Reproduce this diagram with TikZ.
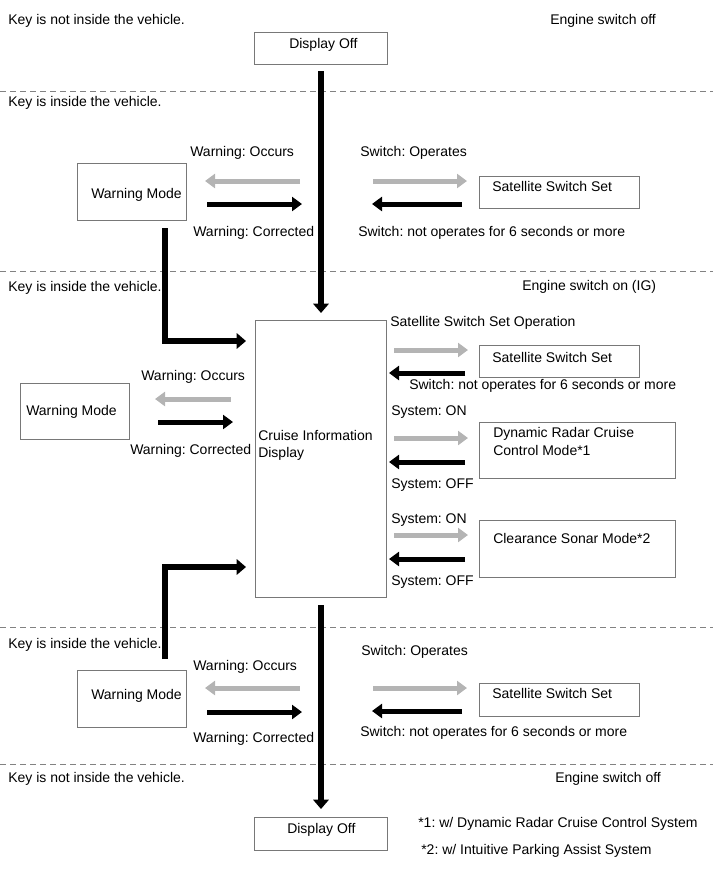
\documentclass[tikz,border=0pt]{standalone}
\usepackage{fontspec}
\setmainfont{Liberation Sans}
\usetikzlibrary{arrows.meta}
\definecolor{lgr}{RGB}{180,180,180}
\definecolor{bdr}{RGB}{120,120,120}
\definecolor{dsh}{RGB}{130,130,130}
\begin{document}
\frenchspacing
\begin{tikzpicture}[x=0.75pt,y=-0.75pt,
  font=\fontsize{10.5}{12.5}\selectfont,
  lbl/.style={anchor=west,inner sep=0pt,text height=7.5pt,text depth=0pt},
  box/.style={draw=bdr,line width=0.7pt,inner sep=0pt,anchor=north west},
  tip/.style={-{Triangle[length=7.5pt,width=10.5pt]}},
  garr/.style={draw=lgr,line width=3.75pt,tip,color=lgr},
  barr/.style={draw=black,line width=3.75pt,tip},
  varr/.style={draw=black,line width=4.2pt,-{Triangle[length=7pt,width=11.5pt]}},
  dline/.style={draw=dsh,line width=0.6pt,dash pattern=on 4.5pt off 3pt}]
\useasboundingbox (0,0) rectangle (713,882);

% ---------- dashed separators ----------
\draw[dline] (0,91) -- (713,91);
\draw[dline] (0,271) -- (713,271);
\draw[dline] (0,627) -- (713,627);
\draw[dline] (0,764) -- (713,764);

% ---------- section labels ----------
\node[lbl] (k1) at (8,19) {Key is not inside the vehicle.};
\node[lbl] (e1) at (550,19) {Engine switch off};
\node[lbl] (k2) at (8,101) {Key is inside the vehicle.};
\node[lbl] (k3) at (8,286) {Key is inside the vehicle.};
\node[lbl] (e2) at (522,285) {Engine switch on (IG)};
\node[lbl] (k4) at (8,643) {Key is inside the vehicle.};
\node[lbl] (k5) at (8,777) {Key is not inside the vehicle.};
\node[lbl] (e3) at (555,777) {Engine switch off};

% ---------- boxes ----------
\node[box,minimum width=133*0.75pt,minimum height=32*0.75pt] (d1) at (254,32) {};
\node[lbl] at (289,43) {Display Off};

\node[box,minimum width=109*0.75pt,minimum height=57*0.75pt] (w1) at (77,163) {};
\node[lbl] at (91,193) {Warning Mode};

\node[box,minimum width=160*0.75pt,minimum height=32*0.75pt] (s1) at (479,176) {};
\node[lbl] at (492,186) {Satellite Switch Set};

\node[box,minimum width=131*0.75pt,minimum height=277*0.75pt] (cid) at (255,320) {};
\node[lbl] at (258,435) {Cruise Information};
\node[lbl] at (258,452) {Display};

\node[box,minimum width=109*0.75pt,minimum height=56*0.75pt] (w2) at (20,383) {};
\node[lbl] at (26,410) {Warning Mode};

\node[box,minimum width=160*0.75pt,minimum height=32*0.75pt] (s2) at (479,345) {};
\node[lbl] at (492,357) {Satellite Switch Set};

\node[box,minimum width=196*0.75pt,minimum height=56*0.75pt] (dr) at (479,422) {};
\node[lbl] at (493,432) {Dynamic Radar Cruise};
\node[lbl] at (493,450) {Control Mode*1};

\node[box,minimum width=196*0.75pt,minimum height=57*0.75pt] (cs) at (479,520) {};
\node[lbl] at (493,538) {Clearance Sonar Mode*2};

\node[box,minimum width=109*0.75pt,minimum height=57*0.75pt] (w3) at (77,670) {};
\node[lbl] at (91,694) {Warning Mode};

\node[box,minimum width=160*0.75pt,minimum height=33*0.75pt] (s3) at (479,683) {};
\node[lbl] at (492,693) {Satellite Switch Set};

\node[box,minimum width=133*0.75pt,minimum height=33*0.75pt] (d2) at (254,817) {};
\node[lbl] at (287,828) {Display Off};

% ---------- texts of section 1 ----------
\node[lbl] (t1) at (190,151) {Warning: Occurs};
\node[lbl] (t2) at (193,231) {Warning: Corrected};
\node[lbl] (t3) at (360,151) {Switch: Operates};
\node[lbl] (t4) at (358,231) {Switch: not operates for 6 seconds or more};

% ---------- texts of section 2 ----------
\node[lbl] (t5) at (390,321) {Satellite Switch Set Operation};
\node[lbl] (t6) at (409,384) {Switch: not operates for 6 seconds or more};
\node[lbl] (t7) at (391,410) {System: ON};
\node[lbl] (t8) at (391,483) {System: OFF};
\node[lbl] (t9) at (391,518) {System: ON};
\node[lbl] (t10) at (391,580) {System: OFF};
\node[lbl] (t11) at (141,375) {Warning: Occurs};
\node[lbl] (t12) at (130,449) {Warning: Corrected};

% ---------- texts of section 3 ----------
\node[lbl] (t13) at (193,665) {Warning: Occurs};
\node[lbl] (t14) at (193,737) {Warning: Corrected};
\node[lbl] (t15) at (361,650) {Switch: Operates};
\node[lbl] (t16) at (360,731) {Switch: not operates for 6 seconds or more};

% ---------- footnotes ----------
\node[lbl] (f1) at (418,822) {*1: w/ Dynamic Radar Cruise Control System};
\node[lbl] (f2) at (421,849) {*2: w/ Intuitive Parking Assist System};

% ---------- coordinates ----------
\coordinate (a1) at (300,181); \coordinate (a2) at (205,181);
\coordinate (a3) at (207,204); \coordinate (a4) at (302,204);
\coordinate (a5) at (373,181); \coordinate (a6) at (467,181);
\coordinate (a7) at (462,204); \coordinate (a8) at (372,204);

\coordinate (b1) at (394,350); \coordinate (b2) at (468,350);
\coordinate (b3) at (465,373); \coordinate (b4) at (389,373);
\coordinate (b5) at (394,438); \coordinate (b6) at (468,438);
\coordinate (b7) at (465,462); \coordinate (b8) at (389,462);
\coordinate (b9) at (394,535); \coordinate (b10) at (468,535);
\coordinate (b11) at (465,559); \coordinate (b12) at (389,559);
\coordinate (c1) at (231,399); \coordinate (c2) at (155,399);
\coordinate (c3) at (158,422); \coordinate (c4) at (233,422);

\coordinate (g1) at (300,688); \coordinate (g2) at (205,688);
\coordinate (g3) at (207,712); \coordinate (g4) at (302,712);
\coordinate (g5) at (373,688); \coordinate (g6) at (467,688);
\coordinate (g7) at (462,711); \coordinate (g8) at (372,711);

\coordinate (v1) at (321,71); \coordinate (v2) at (321,313);
\coordinate (v3) at (321,605); \coordinate (v4) at (321,809);
\coordinate (l1) at (165,228); \coordinate (l2) at (165,341); \coordinate (l3) at (246,341);
\coordinate (m1) at (165,659); \coordinate (m2) at (165,567); \coordinate (m3) at (246,567);

% ---------- arrows ----------
\draw[garr] (a1) -- (a2);
\draw[barr] (a3) -- (a4);
\draw[garr] (a5) -- (a6);
\draw[barr] (a7) -- (a8);

\draw[garr] (b1) -- (b2);
\draw[barr] (b3) -- (b4);
\draw[garr] (b5) -- (b6);
\draw[barr] (b7) -- (b8);
\draw[garr] (b9) -- (b10);
\draw[barr] (b11) -- (b12);
\draw[garr] (c1) -- (c2);
\draw[barr] (c3) -- (c4);

\draw[garr] (g1) -- (g2);
\draw[barr] (g3) -- (g4);
\draw[garr] (g5) -- (g6);
\draw[barr] (g7) -- (g8);

\draw[varr] (v1) -- (v2);
\draw[varr] (v3) -- (v4);
\draw[varr] (l1) -- (l2) -- (l3);
\draw[varr] (m1) -- (m2) -- (m3);
\end{tikzpicture}
\end{document}
